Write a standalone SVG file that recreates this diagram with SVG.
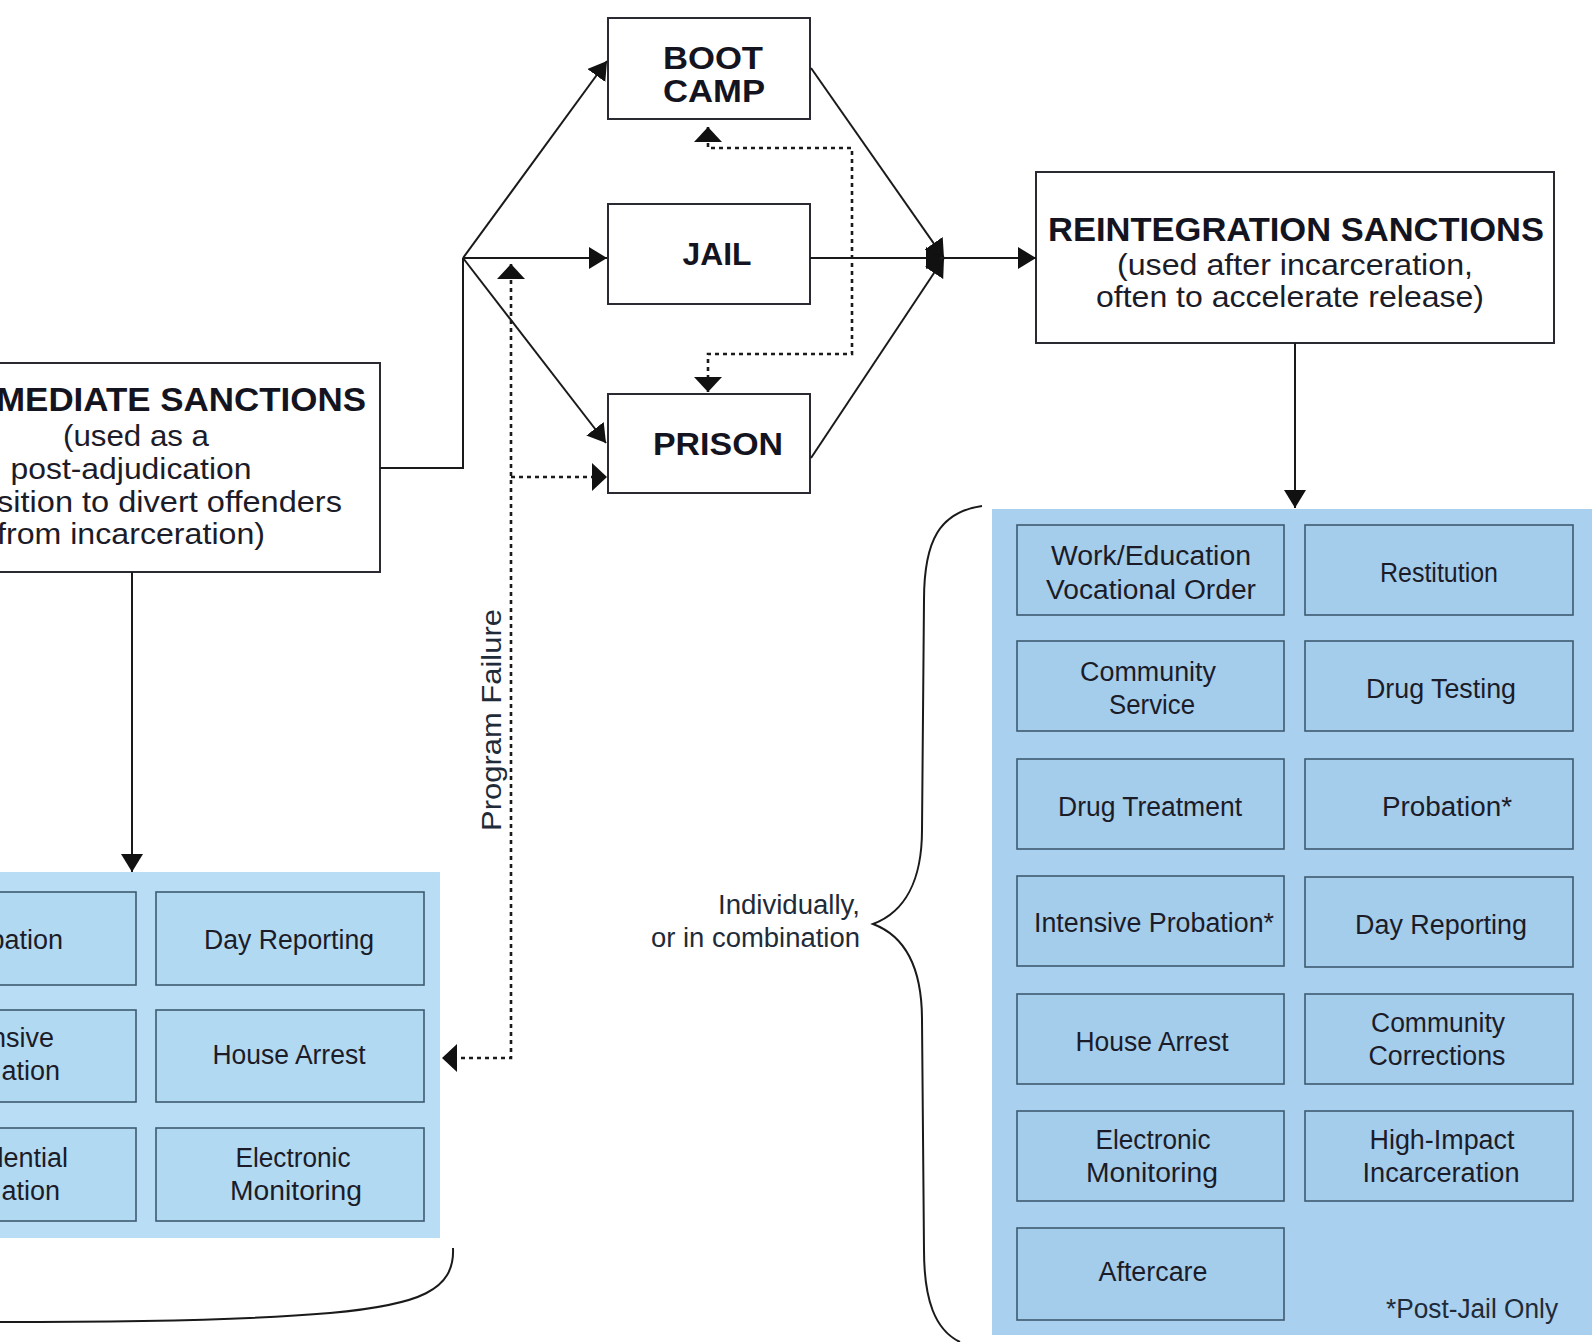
<svg xmlns="http://www.w3.org/2000/svg" width="1595" height="1342" viewBox="0 0 1595 1342">
<style>
  text { font-family: "Liberation Sans", Arial, sans-serif; fill: #1c1c28; }
  .box { fill: #ffffff; stroke: #2a2a33; stroke-width: 2; }
  .panelR { fill: #a9d0ee; }
  .panelL { fill: #b8ddf4; }
  .cell { fill: #a4cdec; stroke: #3e5b70; stroke-width: 1.6; }
  .cellL { fill: #b2d9f2; stroke: #3e5b70; stroke-width: 1.6; }
  .hd { font-weight: bold; font-size: 33px; fill: #141420; }
  .big { font-weight: bold; font-size: 32px; fill: #141420; }
  .sub { font-size: 29px; }
  .lbl { font-size: 27px; fill: #1f2b38; }
  .conn { stroke: #1a1a1a; stroke-width: 2; fill: none; }
  .dot { stroke: #1a1a1a; stroke-width: 2.6; fill: none; stroke-dasharray: 4 4; }
  .brace { stroke: #1a1a1a; stroke-width: 2; fill: none; }
</style>
<defs>
  <marker id="ah" viewBox="0 0 18 22" refX="18" refY="11" markerWidth="18" markerHeight="22" markerUnits="userSpaceOnUse" orient="auto-start-reverse">
    <path d="M0,0 L18,11 L0,22 z" fill="#111"/>
  </marker>
  <marker id="ahd" viewBox="0 0 15 28" refX="15" refY="14" markerWidth="15" markerHeight="28" markerUnits="userSpaceOnUse" orient="auto-start-reverse">
    <path d="M0,0 L15,14 L0,28 z" fill="#111"/>
  </marker>
</defs>
<rect width="1595" height="1342" fill="#ffffff"/>

<!-- panels -->
<g id="left-panel">
  <rect class="panelL" x="-10" y="872" width="450" height="366"/>
  <rect class="cellL" x="-140" y="892" width="276" height="93"/>
  <rect class="cellL" x="156" y="892" width="268" height="93"/>
  <rect class="cellL" x="-140" y="1010" width="276" height="92"/>
  <rect class="cellL" x="156" y="1010" width="268" height="92"/>
  <rect class="cellL" x="-140" y="1128" width="276" height="93"/>
  <rect class="cellL" x="156" y="1128" width="268" height="93"/>
  <g class="lbl">
    <text x="63" y="949" text-anchor="end">bation</text>
    <text x="54" y="1047" text-anchor="end">nsive</text>
    <text x="60" y="1080" text-anchor="end">ation</text>
    <text x="68" y="1167" text-anchor="end">dential</text>
    <text x="60" y="1200" text-anchor="end">ation</text>
    <text x="289" y="949" text-anchor="middle" textLength="170" lengthAdjust="spacingAndGlyphs">Day Reporting</text>
    <text x="289" y="1064" text-anchor="middle" textLength="153" lengthAdjust="spacingAndGlyphs">House Arrest</text>
    <text x="293" y="1167" text-anchor="middle" textLength="115" lengthAdjust="spacingAndGlyphs">Electronic</text>
    <text x="296" y="1200" text-anchor="middle" textLength="132" lengthAdjust="spacingAndGlyphs">Monitoring</text>
  </g>
</g>

<g id="right-panel">
  <rect class="panelR" x="992" y="509" width="600" height="826"/>
  <rect class="cell" x="1017" y="525" width="267" height="90"/>
  <rect class="cell" x="1305" y="525" width="268" height="90"/>
  <rect class="cell" x="1017" y="641" width="267" height="90"/>
  <rect class="cell" x="1305" y="641" width="268" height="90"/>
  <rect class="cell" x="1017" y="759" width="267" height="90"/>
  <rect class="cell" x="1305" y="759" width="268" height="90"/>
  <rect class="cell" x="1017" y="876" width="267" height="90"/>
  <rect class="cell" x="1305" y="877" width="268" height="90"/>
  <rect class="cell" x="1017" y="994" width="267" height="90"/>
  <rect class="cell" x="1305" y="994" width="268" height="90"/>
  <rect class="cell" x="1017" y="1111" width="267" height="90"/>
  <rect class="cell" x="1305" y="1111" width="268" height="90"/>
  <rect class="cell" x="1017" y="1228" width="267" height="92"/>
  <g class="lbl" text-anchor="middle">
    <text x="1151" y="565" textLength="200" lengthAdjust="spacingAndGlyphs">Work/Education</text>
    <text x="1151" y="599" textLength="210" lengthAdjust="spacingAndGlyphs">Vocational Order</text>
    <text x="1439" y="582" textLength="118" lengthAdjust="spacingAndGlyphs">Restitution</text>
    <text x="1148" y="681" textLength="136" lengthAdjust="spacingAndGlyphs">Community</text>
    <text x="1152" y="714" textLength="86" lengthAdjust="spacingAndGlyphs">Service</text>
    <text x="1441" y="698" textLength="150" lengthAdjust="spacingAndGlyphs">Drug Testing</text>
    <text x="1150" y="816" textLength="184" lengthAdjust="spacingAndGlyphs">Drug Treatment</text>
    <text x="1447" y="816" textLength="130" lengthAdjust="spacingAndGlyphs">Probation*</text>
    <text x="1154" y="932" textLength="240" lengthAdjust="spacingAndGlyphs">Intensive Probation*</text>
    <text x="1441" y="934" textLength="172" lengthAdjust="spacingAndGlyphs">Day Reporting</text>
    <text x="1152" y="1051" textLength="153" lengthAdjust="spacingAndGlyphs">House Arrest</text>
    <text x="1438" y="1032" textLength="134" lengthAdjust="spacingAndGlyphs">Community</text>
    <text x="1437" y="1065" textLength="137" lengthAdjust="spacingAndGlyphs">Corrections</text>
    <text x="1153" y="1149" textLength="115" lengthAdjust="spacingAndGlyphs">Electronic</text>
    <text x="1152" y="1182" textLength="132" lengthAdjust="spacingAndGlyphs">Monitoring</text>
    <text x="1442" y="1149" textLength="145" lengthAdjust="spacingAndGlyphs">High-Impact</text>
    <text x="1441" y="1182" textLength="157" lengthAdjust="spacingAndGlyphs">Incarceration</text>
    <text x="1153" y="1281" textLength="109" lengthAdjust="spacingAndGlyphs">Aftercare</text>
  </g>
  <text class="lbl" x="1558" y="1318" text-anchor="end" textLength="172" lengthAdjust="spacingAndGlyphs">*Post-Jail Only</text>
</g>

<!-- nodes -->
<g id="intermediate-sanctions">
  <rect class="box" x="-20" y="363" width="400" height="209"/>
  <text class="hd" x="366" y="411" text-anchor="end" textLength="370" lengthAdjust="spacingAndGlyphs">MEDIATE SANCTIONS</text>
  <text class="sub" x="136" y="446" text-anchor="middle" textLength="146" lengthAdjust="spacingAndGlyphs">(used as a</text>
  <text class="sub" x="131" y="479" text-anchor="middle" textLength="241" lengthAdjust="spacingAndGlyphs">post-adjudication</text>
  <text class="sub" x="342" y="512" text-anchor="end" textLength="345" lengthAdjust="spacingAndGlyphs">sition to divert offenders</text>
  <text class="sub" x="265" y="544" text-anchor="end" textLength="268" lengthAdjust="spacingAndGlyphs">from incarceration)</text>
</g>

<g id="boot-camp">
  <rect class="box" x="608" y="18" width="202" height="101"/>
  <text class="big" x="713" y="69" text-anchor="middle" textLength="100" lengthAdjust="spacingAndGlyphs">BOOT</text>
  <text class="big" x="714" y="102" text-anchor="middle" textLength="102" lengthAdjust="spacingAndGlyphs">CAMP</text>
</g>

<g id="jail">
  <rect class="box" x="608" y="204" width="202" height="100"/>
  <text class="big" x="717" y="265" text-anchor="middle" textLength="69" lengthAdjust="spacingAndGlyphs">JAIL</text>
</g>

<g id="prison">
  <rect class="box" x="608" y="394" width="202" height="99"/>
  <text class="big" x="718" y="455" text-anchor="middle" textLength="130" lengthAdjust="spacingAndGlyphs">PRISON</text>
</g>

<g id="reintegration-sanctions">
  <rect class="box" x="1036" y="172" width="518" height="171"/>
  <text class="hd" x="1296" y="241" text-anchor="middle" textLength="496" lengthAdjust="spacingAndGlyphs">REINTEGRATION SANCTIONS</text>
  <text class="sub" x="1295" y="275" text-anchor="middle" textLength="356" lengthAdjust="spacingAndGlyphs">(used after incarceration,</text>
  <text class="sub" x="1290" y="307" text-anchor="middle" textLength="388" lengthAdjust="spacingAndGlyphs">often to accelerate release)</text>
</g>

<g id="labels">
  <text class="lbl" x="860" y="914" text-anchor="end" textLength="142" lengthAdjust="spacingAndGlyphs">Individually,</text>
  <text class="lbl" x="860" y="947" text-anchor="end" textLength="209" lengthAdjust="spacingAndGlyphs">or in combination</text>
  <text class="lbl" transform="translate(501,720) rotate(-90)" x="0" y="0" text-anchor="middle" textLength="222" lengthAdjust="spacingAndGlyphs">Program Failure</text>
</g>

<!-- connectors -->
<g id="connectors">
  <path class="conn" d="M380 468 H463 V258"/>
  <path class="conn" d="M463 258 L607 61" marker-end="url(#ah)"/>
  <path class="conn" d="M463 258 L607 258" marker-end="url(#ah)"/>
  <path class="conn" d="M463 258 L606 443" marker-end="url(#ah)"/>
  <path class="conn" d="M811 68 L944 258" marker-end="url(#ah)"/>
  <path class="conn" d="M810 258 L944 258" marker-end="url(#ah)"/>
  <path class="conn" d="M811 458 L944 258" marker-end="url(#ah)"/>
  <path class="conn" d="M940 258 L1036 258" marker-end="url(#ah)"/>
  <path class="conn" d="M1295 343 V508" marker-end="url(#ah)"/>
  <path class="conn" d="M132 572 V872" marker-end="url(#ah)"/>
  <path class="dot" d="M708 127 V148 H852 V354 H708 V392" marker-start="url(#ahd)" marker-end="url(#ahd)"/>
  <path class="dot" d="M511 264 V1058 H442" marker-start="url(#ahd)" marker-end="url(#ahd)"/>
  <path class="dot" d="M511 477 H607" marker-end="url(#ahd)"/>
  <path class="brace" d="M982 506 C 940 512, 924 540, 924 600 L 922 830 C 922 880, 905 912, 873 924 C 905 936, 922 968, 922 1020 L 924 1250 C 924 1300, 935 1330, 960 1342"/>
  <path class="brace" d="M453 1248 C 455 1290, 420 1305, 330 1313 C 250 1320, 100 1322, 0 1322"/>
</g>
</svg>
